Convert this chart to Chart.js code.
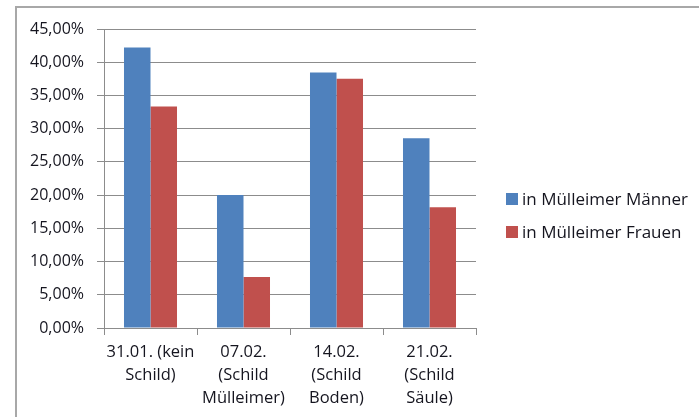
<!DOCTYPE html>
<html>
<head>
<meta charset="utf-8">
<script src="https://cdn.jsdelivr.net/npm/chart.js@4/dist/chart.umd.min.js"></script>
<style>
  html, body { margin: 0; padding: 0; background: #fff; }
  #wrap { width: 699px; height: 417px; }
</style>
</head>
<body>
<div id="wrap"><canvas id="c" width="699" height="417"></canvas></div>
<script>
// Anteil der Funde je Termin (in Prozent)
const categories = [
  ["31.01. (kein", "Schild)"],
  ["07.02.", "(Schild", "Mülleimer)"],
  ["14.02.", "(Schild", "Boden)"],
  ["21.02.", "(Schild", "Säule)"]
];
const seriesNames = ["in Mülleimer Männer", "in Mülleimer Frauen"];
const maenner = [42.22, 20.00, 38.46, 28.57];
const frauen  = [33.33, 7.69, 37.50, 18.18];
const yTicks = [0, 5, 10, 15, 20, 25, 30, 35, 40, 45];

const FONT = "'Open Sans', 'Noto Sans', sans-serif";
const TEXT = '#15151f';
const GRID = '#8c8c8c';
const colors = ['#4F81BD', '#C0504D'];

const fmt = v => v.toFixed(2).replace('.', ',') + '%';

// Rahmen oben und links sowie die Legende rechts
const framePlugin = {
  id: 'frame',
  beforeDraw(chart) {
    const ctx = chart.ctx;
    ctx.save();
    ctx.strokeStyle = '#a8a8a8';
    ctx.lineWidth = 2;
    ctx.beginPath();
    ctx.moveTo(16, 417);
    ctx.lineTo(16, 7);
    ctx.lineTo(699, 7);
    ctx.stroke();
    ctx.restore();
  },
  afterDraw(chart) {
    const ctx = chart.ctx;
    ctx.save();
    ctx.font = '17px ' + FONT;
    ctx.textBaseline = 'middle';
    ctx.textAlign = 'left';
    chart.data.datasets.forEach((ds, i) => {
      const y = 199 + i * 33;
      ctx.fillStyle = ds.backgroundColor;
      ctx.fillRect(506, y - 6, 12, 12);
      ctx.fillStyle = TEXT;
      ctx.fillText(ds.label, 522, y + 1);
    });
    ctx.restore();
  }
};

new Chart(document.getElementById('c'), {
  type: 'bar',
  data: {
    labels: categories,
    datasets: [
      { label: seriesNames[0], data: maenner, backgroundColor: colors[0] },
      { label: seriesNames[1], data: frauen, backgroundColor: colors[1] }
    ]
  },
  options: {
    responsive: false,
    animation: false,
    devicePixelRatio: 1,
    layout: { padding: { top: 29, right: 223, bottom: 0, left: 0 } },
    datasets: { bar: { categoryPercentage: 0.57, barPercentage: 1.0 } },
    plugins: { legend: { display: false }, tooltip: { enabled: false } },
    scales: {
      x: {
        grid: { drawOnChartArea: false, drawTicks: true, tickLength: 7, color: GRID, offset: true },
        border: { color: GRID, width: 1 },
        ticks: {
          color: TEXT, padding: 6, maxRotation: 0, autoSkip: false,
          font: { family: FONT, size: 16.5, lineHeight: 1.4 }
        },
        afterFit(scale) { scale.height = 89; }
      },
      y: {
        min: 0, max: 45,
        afterBuildTicks(scale) { scale.ticks = yTicks.map(v => ({ value: v })); },
        grid: { color: GRID, tickLength: 7, drawTicks: true },
        border: { color: GRID, width: 1 },
        ticks: {
          color: TEXT, padding: 13,
          font: { family: FONT, size: 16 },
          callback: v => fmt(v)
        },
        afterFit(scale) { scale.width = 104; }
      }
    }
  },
  plugins: [framePlugin]
});
</script>
</body>
</html>
